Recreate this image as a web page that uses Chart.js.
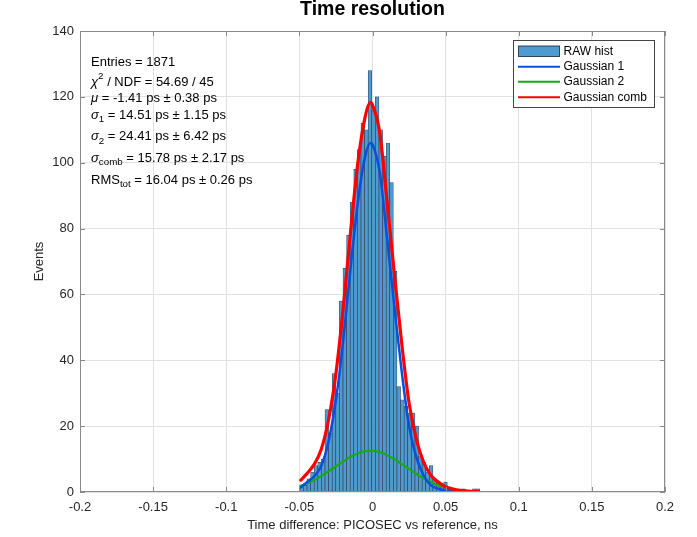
<!DOCTYPE html>
<html>
<head>
<meta charset="utf-8">
<script src="https://cdn.jsdelivr.net/npm/chart.js@4.4.1/dist/chart.umd.min.js"></script>
<style>
  body { margin: 0; background: #fff; }
  canvas { display: block; }
</style>
</head>
<body>
<canvas id="grafico" width="697" height="537"></canvas>
<script>
// -----------------------------
// DATA
// -----------------------------
const binStart = -0.0497;   // ns, left edge of the first bin
const binWidth = 0.00246;   // ns
const counts = [2, 2, 4, 6, 8, 9, 10, 25, 18, 36,
                30, 58, 68, 78, 88, 98, 104, 112, 110, 128,
                116, 120, 110, 102, 106, 94, 67, 32, 28, 26,
                24, 24, 20, 11, 9, 6, 8, 4, 3, 2,
                3, 1, 1, 0, 0, 1, 0, 0, 1, 1];

const curveX = [-0.0497, -0.045, -0.04, -0.035, -0.03, -0.025, -0.02, -0.015, -0.01, -0.005,
                -0.0014, 0, 0.005, 0.01, 0.015, 0.02, 0.025, 0.03, 0.035, 0.04,
                0.045, 0.05, 0.055, 0.06, 0.065, 0.07, 0.0733];
const gauss1 = [1.2, 2.9, 4.7, 8, 15.5, 28, 46, 68, 88, 102,
                106, 105.5, 97, 77, 56, 36.5, 20, 10.5, 5, 2,
                1, 0.4, 0.15, 0.05, 0, 0, 0];
const gauss2 = [1.8, 2.6, 3.6, 4.9, 6.3, 7.8, 9.3, 10.7, 11.7, 12.4,
                12.5, 12.5, 12.1, 11.2, 10, 8.5, 7, 5.5, 4.1, 3,
                2, 1.3, 0.8, 0.5, 0.3, 0.2, 0.1];
const gaussComb = [3.3, 5.5, 8.3, 13, 22, 36, 56, 79, 100, 114,
                   118.3, 117.5, 109, 88, 66, 45, 27, 16, 9, 5,
                   3, 1.6, 0.9, 0.5, 0.3, 0.2, 0.2];

const xTicks = [-0.2, -0.15, -0.1, -0.05, 0, 0.05, 0.1, 0.15, 0.2];
const yTicks = [0, 20, 40, 60, 80, 100, 120, 140];

const titulo = "Time resolution";
const xTitle = "Time difference: PICOSEC vs reference, ns";
const yTitle = "Events";
const legendLabels = ["RAW hist", "Gaussian 1", "Gaussian 2", "Gaussian comb"];

// fit summary lines: [text, kind] where kind is n / g / sub / sup
const statLines = [
    [["Entries = 1871", "n"]],
    [["\u03C7", "g"], ["2", "sup"], [" / NDF = 54.69 / 45", "n"]],
    [["\u03BC", "g"], [" = -1.41 ps \u00B1 0.38 ps", "n"]],
    [["\u03C3", "g"], ["1", "sub"], [" = 14.51 ps \u00B1 1.15 ps", "n"]],
    [["\u03C3", "g"], ["2", "sub"], [" = 24.41 ps \u00B1 6.42 ps", "n"]],
    [["\u03C3", "g"], ["comb", "sub"], [" = 15.78 ps \u00B1 2.17 ps", "n"]],
    [["RMS", "n"], ["tot", "sub"], [" = 16.04 ps \u00B1 0.26 ps", "n"]]
];
const statY = [62, 82, 98.5, 115, 136.5, 158, 180];

// -----------------------------
// STYLE
// -----------------------------
const FONT = "'Liberation Sans', Arial, Helvetica, sans-serif";
const barFill = "rgb(77, 155, 207)";
const barEdge = "rgba(25, 45, 70, 0.85)";
const colBlue = "#0a4fdc";
const colGreen = "#12ad12";
const colRed = "#ff0000";
const axisCol = "#8a8a8a";
const textCol = "#262626";

const histData = counts.map((c, i) => ({ x: binStart + (i + 0.5) * binWidth, y: c }));
const toPts = arr => curveX.map((x, i) => ({ x, y: arr[i] }));

// -----------------------------
// OVERLAY: box, inner ticks, texts, legend
// -----------------------------
function drawRich(ctx, parts, x, y, size) {
    let cx = x;
    for (const [txt, kind] of parts) {
        let s = size, dy = 0, style = "";
        if (kind === "sub") { s = size * 0.75; dy = 4.5; }
        if (kind === "sup") { s = size * 0.75; dy = -6; }
        if (kind === "g") { style = "italic "; }
        ctx.font = style + s + "px " + FONT;
        ctx.fillText(txt, cx, y + dy);
        cx += ctx.measureText(txt).width;
    }
}

const overlay = {
    id: "overlay",
    afterDatasetsDraw(chart) {
        const ctx = chart.ctx;
        const a = chart.chartArea;
        const xs = chart.scales.x, ys = chart.scales.y;
        ctx.save();

        // box + inward ticks
        ctx.strokeStyle = axisCol;
        ctx.lineWidth = 1;
        ctx.strokeRect(a.left + 0.5, a.top + 0.5, a.right - a.left - 1, a.bottom - a.top - 1);
        ctx.beginPath();
        for (const t of xTicks) {
            const px = Math.round(xs.getPixelForValue(t)) + 0.5;
            ctx.moveTo(px, a.bottom); ctx.lineTo(px, a.bottom - 5);
            ctx.moveTo(px, a.top); ctx.lineTo(px, a.top + 5);
        }
        for (const t of yTicks) {
            const py = Math.round(ys.getPixelForValue(t)) + 0.5;
            ctx.moveTo(a.left, py); ctx.lineTo(a.left + 5, py);
            ctx.moveTo(a.right, py); ctx.lineTo(a.right - 5, py);
        }
        ctx.stroke();

        ctx.fillStyle = "#000";
        ctx.textBaseline = "middle";
        ctx.textAlign = "left";
        statLines.forEach((ln, i) => drawRich(ctx, ln, 91, statY[i], 13));

        // titles
        ctx.textAlign = "center";
        ctx.textBaseline = "alphabetic";
        ctx.font = "bold 19.5px " + FONT;
        ctx.fillStyle = "#000";
        ctx.fillText(titulo, (a.left + a.right) / 2, 15);
        ctx.font = "13px " + FONT;
        ctx.fillStyle = textCol;
        ctx.textBaseline = "middle";
        ctx.fillText(xTitle, (a.left + a.right) / 2, 525);
        ctx.save();
        ctx.translate(39, (a.top + a.bottom) / 2);
        ctx.rotate(-Math.PI / 2);
        ctx.fillText(yTitle, 0, 0);
        ctx.restore();

        // legend
        const lx = 513.5, ly = 40.5, lw = 141, lh = 67;
        ctx.fillStyle = "#fff";
        ctx.fillRect(lx, ly, lw, lh);
        ctx.strokeStyle = "#444";
        ctx.lineWidth = 1;
        ctx.strokeRect(lx, ly, lw, lh);
        const rowY = [51.2, 66.7, 81.8, 97.3];
        ctx.fillStyle = barFill;
        ctx.fillRect(518.5, 46, 41, 10.5);
        ctx.strokeStyle = barEdge;
        ctx.strokeRect(518.5, 46, 41, 10.5);
        [colBlue, colGreen, colRed].forEach((c, i) => {
            ctx.strokeStyle = c;
            ctx.lineWidth = 2;
            ctx.beginPath();
            ctx.moveTo(518, rowY[i + 1]);
            ctx.lineTo(560, rowY[i + 1]);
            ctx.stroke();
        });
        ctx.fillStyle = "#000";
        ctx.textAlign = "left";
        ctx.font = "12px " + FONT;
        legendLabels.forEach((t, i) => ctx.fillText(t, 563.5, rowY[i]));
        ctx.restore();
    }
};

// -----------------------------
// CHART
// -----------------------------
const grafico = new Chart(document.getElementById("grafico"), {
    type: "bar",
    data: {
        datasets: [
            {
                type: "line",
                data: toPts(gaussComb),
                borderColor: colRed,
                borderWidth: 3.2,
                pointRadius: 0,
                cubicInterpolationMode: "monotone",
                order: 1
            },
            {
                type: "line",
                data: toPts(gauss1),
                borderColor: colBlue,
                borderWidth: 2.5,
                pointRadius: 0,
                cubicInterpolationMode: "monotone",
                order: 2
            },
            {
                type: "line",
                data: toPts(gauss2),
                borderColor: colGreen,
                borderWidth: 2.2,
                pointRadius: 0,
                cubicInterpolationMode: "monotone",
                order: 3
            },
            {
                type: "bar",
                data: histData,
                backgroundColor: barFill,
                borderColor: barEdge,
                borderWidth: 0.7,
                borderSkipped: false,
                barPercentage: 1,
                categoryPercentage: 1,
                order: 4
            }
        ]
    },
    options: {
        responsive: false,
        animation: false,
        layout: { padding: { top: 31, right: 32, left: 0, bottom: 0 } },
        plugins: { legend: { display: false }, tooltip: { enabled: false } },
        scales: {
            x: {
                type: "linear",
                min: -0.2,
                max: 0.2,
                offset: false,
                afterBuildTicks: s => { s.ticks = xTicks.map(v => ({ value: v })); },
                afterFit: s => { s.height = 45; },
                ticks: {
                    padding: 8,
                    color: textCol,
                    font: { family: FONT, size: 13 },
                    maxRotation: 0,
                    callback: v => String(parseFloat(v.toFixed(2)))
                },
                grid: { color: "#e2e2e2", drawTicks: false, offset: false },
                border: { display: false }
            },
            y: {
                min: 0,
                max: 140,
                afterBuildTicks: s => { s.ticks = yTicks.map(v => ({ value: v })); },
                afterFit: s => { s.width = 80; },
                ticks: {
                    padding: 6,
                    color: textCol,
                    font: { family: FONT, size: 13 }
                },
                grid: { color: "#e2e2e2", drawTicks: false },
                border: { display: false }
            }
        }
    },
    plugins: [overlay]
});
</script>
</body>
</html>
